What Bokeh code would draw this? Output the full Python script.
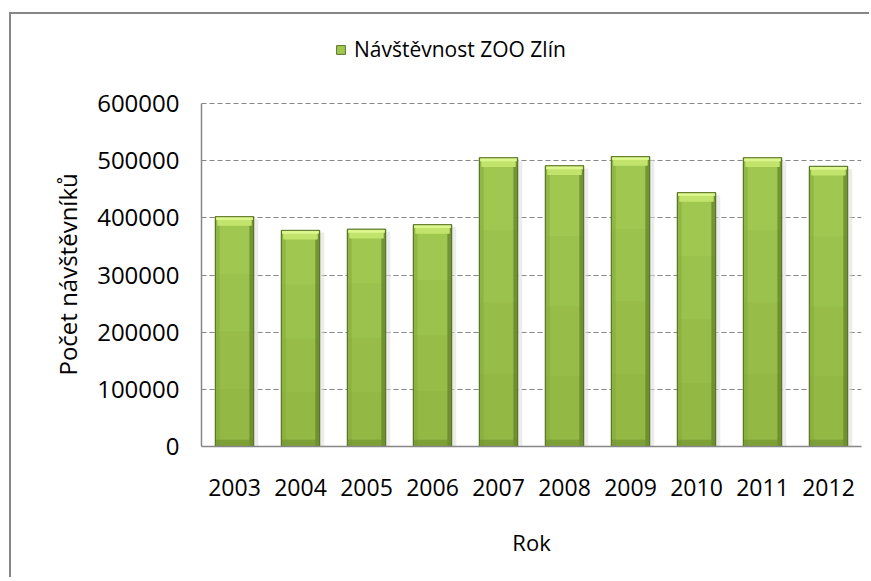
from bokeh.plotting import figure
from bokeh.models import (ColumnDataSource, FactorRange, Range1d, FixedTicker,
                          BasicTickFormatter, Legend, LegendItem, Title)
from bokeh.transform import dodge
from bokeh.embed import file_html
from bokeh.resources import INLINE

years = ["2003", "2004", "2005", "2006", "2007", "2008", "2009", "2010", "2011", "2012"]
visitors = [402000, 378000, 380000, 388000, 505000, 491000, 507000, 444000, 505000, 490000]
y_ticks = [0, 100000, 200000, 300000, 400000, 500000, 600000]
series_name = "Návštěvnost ZOO Zlín"
x_title = "Rok"
y_title = "Počet návštěvníků"

FONT = "Open Sans"

# layout (pixels): frame extends above the axis so the legend lies inside it
AXIS_TOP_PX = 103
FRAME_TOP_PX = 30
FRAME_BOTTOM_PX = 446
y_axis_max = y_ticks[-1]
y_view_max = y_axis_max * (FRAME_BOTTOM_PX - FRAME_TOP_PX) / (FRAME_BOTTOM_PX - AXIS_TOP_PX)

src = ColumnDataSource(dict(
    x=years,
    top=visitors,
    shadow_top=[v * 0.99 for v in visitors],
    bevel_bottom=[v - 16000 for v in visitors],
    bright_bottom=[v - 6000 for v in visitors],
    q3=[v * 0.75 for v in visitors],
    q2=[v * 0.5 for v in visitors],
    q1=[v * 0.25 for v in visitors],
    base_top=[12000 for v in visitors],
    zero=[0 for v in visitors],
))

p = figure(width=860, height=565, x_range=FactorRange(*years), y_range=Range1d(0, y_view_max),
           output_backend="svg", toolbar_location=None, title=None,
           min_border_left=190, min_border_top=16, min_border_right=10, min_border_bottom=133,
           styles={"margin-left": "9px", "margin-top": "12px",
                   "border-left": "2px solid #868686", "border-top": "2px solid #868686"})
p.background_fill_color = "white"
p.border_fill_color = "white"
p.outline_line_color = None

W = 0.58
p.vbar(x=dodge("x", 0.07, range=p.x_range), top="shadow_top", bottom="zero", width=W,
       source=src, fill_color="#dcdcdc", fill_alpha=0.55, line_color=None)
main = p.vbar(x="x", top="top", bottom="zero", width=W, source=src,
              fill_color="#A0C850", line_color="#5A7628", line_width=1)
for col in ("q3", "q2", "q1"):
    p.vbar(x="x", top=col, bottom="zero", width=W, source=src,
           fill_color="#5E7F22", fill_alpha=0.07, line_color=None)
p.vbar(x=dodge("x", -0.255, range=p.x_range), top="top", bottom="zero", width=0.06, source=src,
       fill_color="#86AA3E", fill_alpha=0.6, line_color=None)
p.vbar(x=dodge("x", 0.255, range=p.x_range), top="top", bottom="zero", width=0.06, source=src,
       fill_color="#5F7D28", fill_alpha=0.7, line_color=None)
p.vbar(x="x", top="base_top", bottom="zero", width=W, source=src,
       fill_color="#6E902F", fill_alpha=0.6, line_color=None)
p.vbar(x="x", top="top", bottom="bevel_bottom", width=W * 0.9, source=src,
       fill_color="#C2E46C", line_color=None)
p.vbar(x="x", top="top", bottom="bright_bottom", width=W * 0.96, source=src,
       fill_color="#DDF78F", line_color=None)
p.vbar(x="x", top="top", bottom="zero", width=W, source=src,
       fill_color=None, line_color="#5A7628", line_width=1)

p.xgrid.grid_line_color = None
p.ygrid.grid_line_color = "#868686"
p.ygrid.grid_line_dash = "5 3"
p.ygrid.grid_line_width = 1

p.yaxis.ticker = FixedTicker(ticks=y_ticks)
p.yaxis.formatter = BasicTickFormatter(use_scientific=False)
p.yaxis.bounds = (0, y_axis_max)
for ax in (p.xaxis[0], p.yaxis[0]):
    ax.axis_line_color = "#868686"
    ax.axis_line_width = 1.5
    ax.major_tick_line_color = None
    ax.minor_tick_line_color = None
    ax.major_label_text_font = FONT
    ax.major_label_text_font_size = "23px"
    ax.major_label_text_color = "#000000"
    ax.axis_label_text_font = FONT
    ax.axis_label_text_font_size = "22px"
    ax.axis_label_text_font_style = "normal"
    ax.axis_label_text_color = "#000000"
p.yaxis.major_label_text_font_size = "24px"
p.yaxis.major_label_standoff = 16
p.xaxis.major_label_standoff = 26
p.xaxis.axis_label = x_title
p.xaxis.axis_label_standoff = 28

ytitle = Title(text=y_title, align="left", offset=71, standoff=21,
               text_font=FONT, text_font_size="24px", text_font_style="normal",
               text_color="#000000")
p.add_layout(ytitle, "left")

legend = Legend(items=[LegendItem(label=series_name, renderers=[main])],
                location=(134, 383), orientation="horizontal",
                label_text_font=FONT, label_text_font_size="21px", label_text_color="#000000",
                glyph_width=11, glyph_height=11, padding=2, margin=0, spacing=0,
                label_standoff=8, border_line_color=None, background_fill_alpha=0)
p.add_layout(legend, "center")

open("out.html", "w").write(file_html(p, INLINE))
